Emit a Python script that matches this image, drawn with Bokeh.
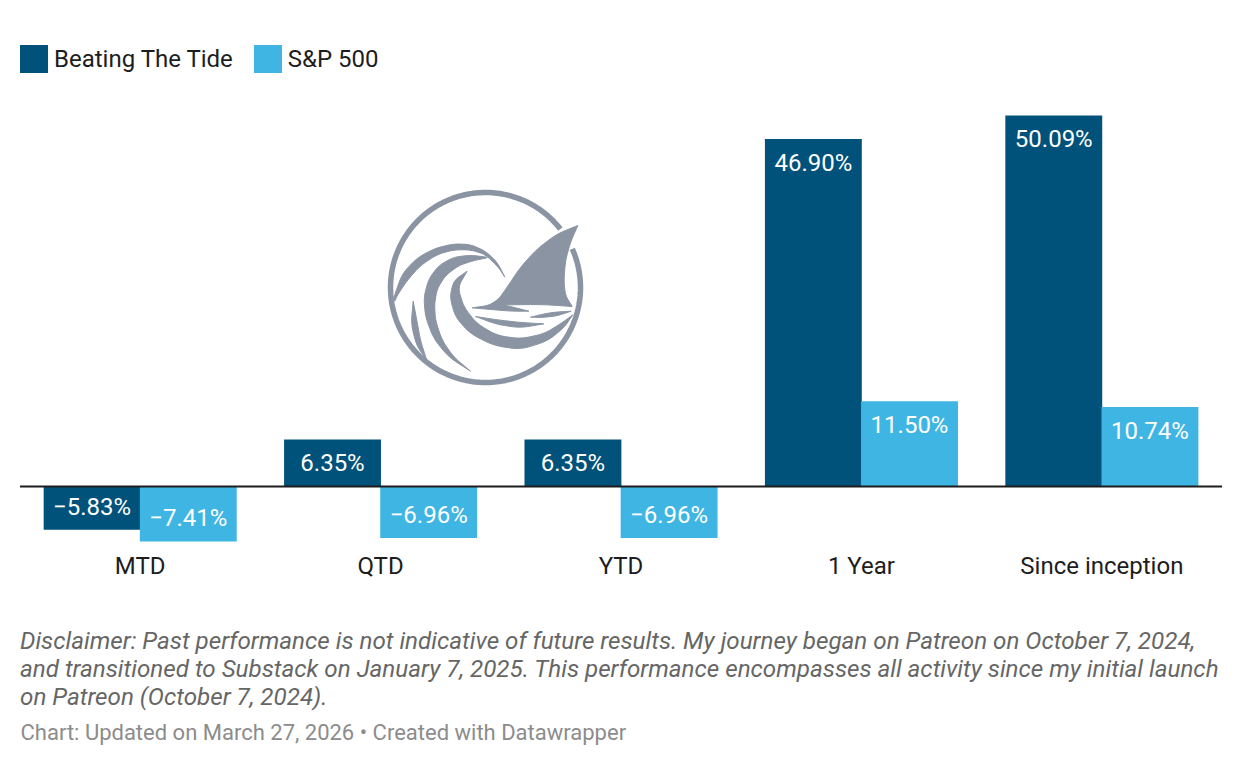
from bokeh.plotting import figure
from bokeh.models import ColumnDataSource, Range1d, Label, Legend, LegendItem, FixedTicker
from bokeh.transform import dodge
from bokeh.core.properties import value
from bokeh.embed import file_html
from bokeh.resources import INLINE
import numpy as np

categories = ["MTD", "QTD", "YTD", "1 Year", "Since inception"]
beating_the_tide = [-5.83, 6.35, 6.35, 46.90, 50.09]
sp500 = [-7.41, -6.96, -6.96, 11.50, 10.74]
series_names = ["Beating The Tide", "S&P 500"]

DARK, LIGHT = "#00527a", "#3fb5e3"
INK, LOGO = "#1d1d1d", "#8a94a3"
FONT = "Roboto"


def label_text(v):
    return f"{v:.2f}%".replace("-", "\u2212")


W, H = 1242, 766
idx = list(range(len(categories)))
# the plot frame fills the canvas so that the legend and notes are not clipped
p = figure(width=W, height=H, output_backend="svg", toolbar_location=None,
           x_range=Range1d(-0.581, 4.585),
           y_range=Range1d(-37.80, 65.61),
           min_border=0,
           outline_line_color=None, background_fill_color="white", border_fill_color="white")
p.xgrid.visible = False
p.ygrid.visible = False
p.yaxis.visible = False
ax = p.xaxis[0]
ax.fixed_location = -7.965
ax.ticker = FixedTicker(ticks=idx)
ax.major_label_overrides = {i: c for i, c in zip(idx, categories)}
ax.axis_line_color = None
ax.major_tick_line_color = None
ax.minor_tick_line_color = None
ax.major_label_standoff = 0
ax.major_label_text_font = FONT
ax.major_label_text_font_size = "24px"
ax.major_label_text_color = INK

# page-pixel overlay scale for the decorative logo and the notes
p.extra_x_ranges["px"] = Range1d(0, W)
p.extra_y_ranges["px"] = Range1d(H, 0)

BAR_W = 0.403
OFF = 0.2
handles = []
text_sources = []
for vals, col, sign in ((beating_the_tide, DARK, -1), (sp500, LIGHT, 1)):
    src = ColumnDataSource(dict(
        i=idx, v=vals,
        txt=[label_text(v) for v in vals],
        off=[24 if v > 0 else -23 for v in vals],
    ))
    x = dodge("i", sign * OFF)
    r = p.vbar(x=x, top="v", bottom=0, width=BAR_W, source=src,
               fill_color=col, line_color=None)
    handles.append(r)
    text_sources.append((x, src))

# zero line runs from the frame's first band edge to its last
p.segment(x0=[idx[0] - 0.5], x1=[idx[-1] + 0.5], y0=[0], y1=[0], line_color="#1d1d1d", line_width=2)

for x, src in text_sources:
    p.text(x=x, y="v", text="txt", y_offset="off", source=src,
           text_align="center", text_baseline="middle",
           text_font=value(FONT), text_font_size="24px", text_color="white")

legend = Legend(items=[LegendItem(label=n, renderers=[h]) for n, h in zip(series_names, handles)],
                orientation="horizontal", location=(16, 690),
                glyph_width=35, glyph_height=35, label_standoff=3, spacing=17,
                padding=0, margin=0, border_line_color=None, background_fill_alpha=0,
                label_text_font=FONT, label_text_font_size="24px", label_text_color=INK,
                label_height=35)
p.add_layout(legend, "center")

# logo: outlines traced in a 3x crop whose corner is at (370, 180)
shapes = [
    [(622,135),(622,135),(560,160),(500,205),(450,260),(410,320),(385,355),(355,375),(305,382),(305,382),(350,386),(420,392),(475,392),(475,392),(420,378),(395,373),(520,372),(605,378),(605,378),(585,345),(580,300),(585,240),(600,185)],
    [(70,350),(95,280),(140,232),(195,203),(250,190),(300,192),(345,212),(380,245),(403,290),(403,290),(385,262),(345,222),(300,208),(250,208),(200,222),(150,255),(110,300),(80,345),(72,365)],
    [(350,230),(300,224),(250,230),(205,255),(175,295),(160,350),(165,410),(190,475),(235,530),(300,572),(300,572),(250,530),(215,480),(195,420),(192,370),(200,325),(225,285),(265,255),(310,240),(350,232)],
    [(290,272),(290,272),(250,300),(238,350),(255,410),(300,460),(370,495),(450,507),(530,482),(580,442),(607,403),(607,403),(570,430),(520,460),(450,475),(380,465),(320,430),(280,380),(262,320)],
    [(128,362),(128,362),(122,430),(138,495),(168,537),(168,537),(150,480),(140,425)],
    [(315,408),(315,408),(380,432),(450,442),(520,430),(520,430),(450,426),(380,418)],
    [(480,410),(480,410),(540,396),(602,392),(602,392),(560,406),(515,411)],
]


def chaikin(pts, n=2):
    a = np.array(pts, float)
    for _ in range(n):
        b = np.roll(a, -1, axis=0)
        a = np.column_stack([0.8 * a + 0.2 * b, 0.2 * a + 0.8 * b]).reshape(-1, 2)
    return a


xs, ys = [], []
for s in shapes:
    a = chaikin(s)
    xs.append(list(370 + a[:, 0] / 3))
    ys.append(list(180 + a[:, 1] / 3))
p.patches(xs, ys, fill_color=LOGO, line_color=LOGO, line_width=1, x_range_name="px", y_range_name="px")

t = np.radians(np.linspace(38, 24 + 360, 240))
p.line(485 + 95 * np.cos(t), 287 - 95 * np.sin(t), line_color=LOGO, line_width=5.5,
       x_range_name="px", y_range_name="px")

notes = [
    ("Disclaimer: Past performance is not indicative of future results. My journey began on Patreon on October 7, 2024,", 640),
    ("and transitioned to Substack on January 7, 2025. This performance encompasses all activity since my initial launch", 668),
    ("on Patreon (October 7, 2024).", 696),
]
for txt, y in notes:
    p.add_layout(Label(x=19.5, y=y, text=txt, x_range_name="px", y_range_name="px",
                       text_font=FONT, text_font_style="italic", text_font_size="24.2px",
                       text_color="#666666", text_baseline="middle"))
p.add_layout(Label(x=20, y=732, text="Chart: Updated on March 27, 2026 \u2022 Created with Datawrapper",
                   x_range_name="px", y_range_name="px", text_font=FONT, text_font_size="22px",
                   text_color="#8c8c8c", text_baseline="middle"))

open("out.html", "w").write(file_html(p, INLINE))
